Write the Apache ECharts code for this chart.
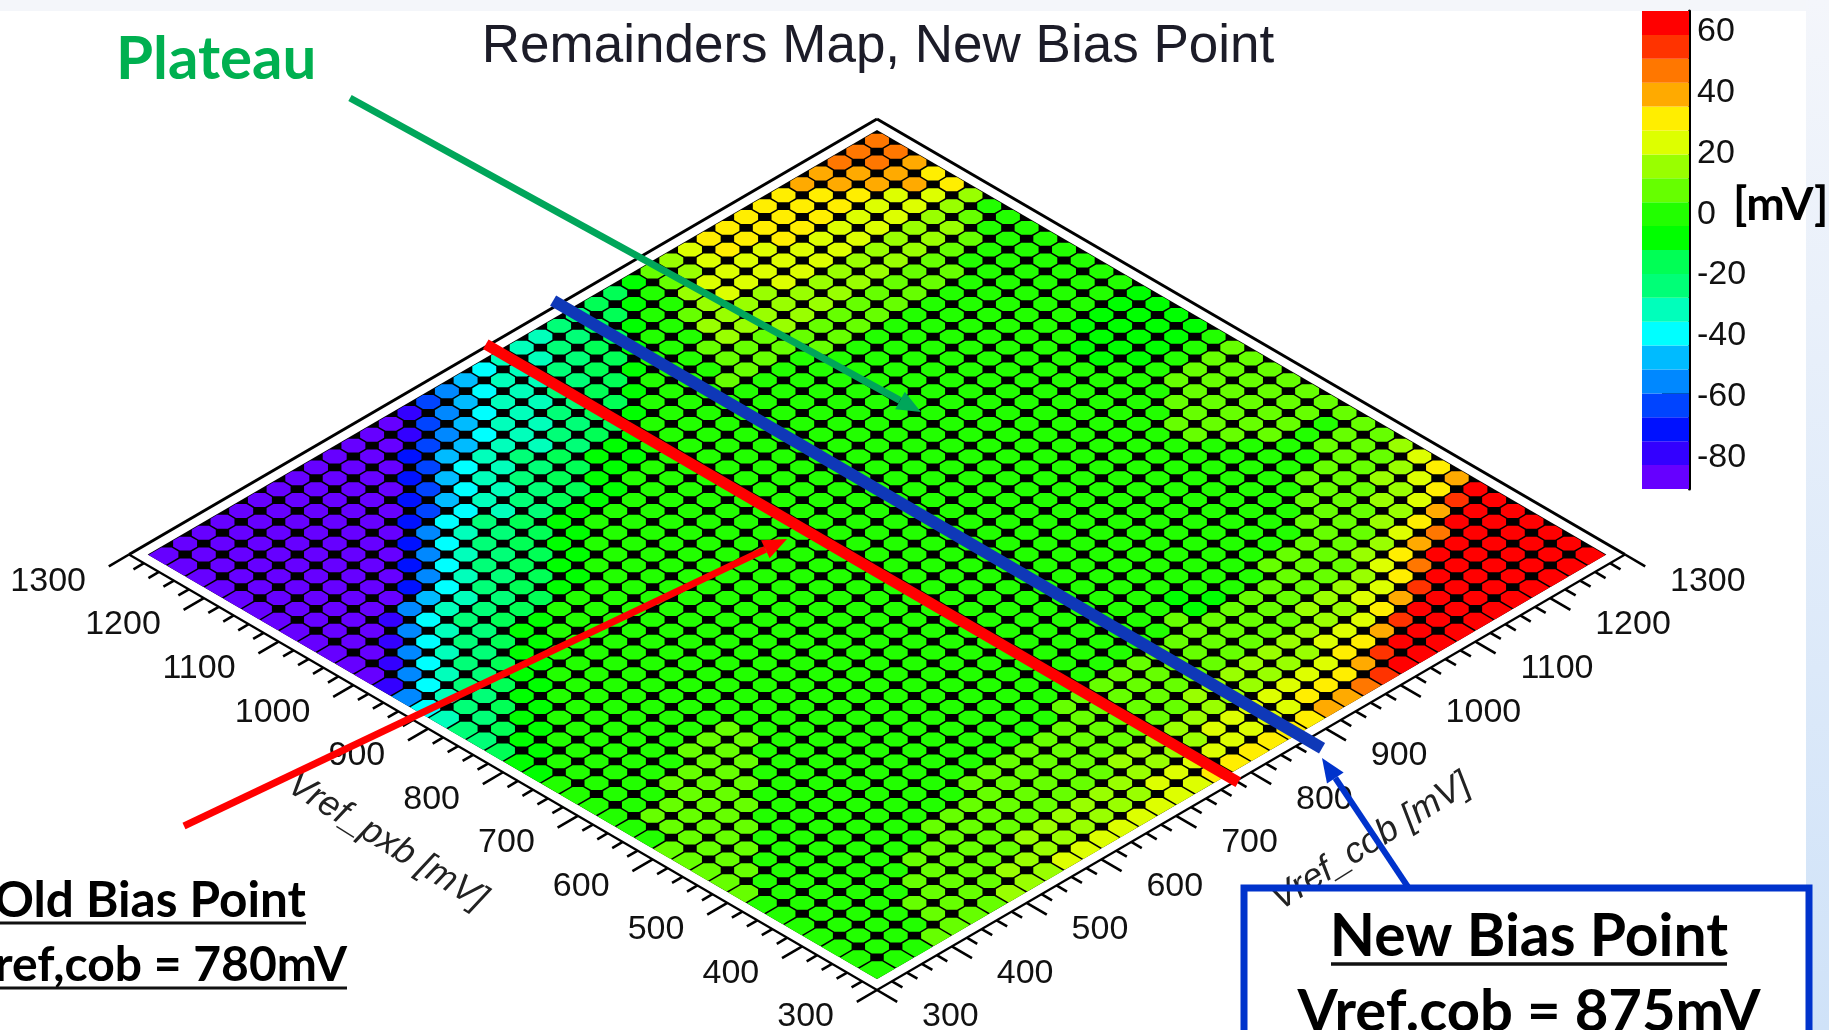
<!DOCTYPE html>
<html lang="en">
<head>
<meta charset="UTF-8">
<title>Remainders Map, New Bias Point</title>
<script src="https://cdn.jsdelivr.net/npm/echarts@6/dist/echarts.min.js"></script>
<style>
html, body { margin: 0; padding: 0; background: #fff; }
#main { width: 1829px; height: 1030px; }
</style>
<script>
// scan points, mV
var pxbBins = [325,350,375,400,425,450,475,500,525,550,575,600,625,650,675,700,725,750,775,800,825,850,875,900,925,950,975,1000,1025,1050,1075,1100,1125,1150,1175,1200,1225,1250,1275];
var cobBins = [325,350,375,400,425,450,475,500,525,550,575,600,625,650,675,700,725,750,775,800,825,850,875,900,925,950,975,1000,1025,1050,1075,1100,1125,1150,1175,1200,1225,1250,1275];

// remainder in mV, one row per pxb bin, one column per cob bin
var remainders = [
[0,0,1,3,5,7,9,11,14,17, 19,20,22,23,22,22,23,25,27,28, 29,30,31,34,38,42,46,52,58,62, 62,62,62,62,62,62,62,62,62],
[0,0,1,2,4,6,7,9,11,14, 15,16,18,18,18,18,19,20,22,23, 24,25,26,26,27,29,33,40,52,62, 62,62,62,62,62,62,62,62,62],
[0,0,0,1,3,4,5,6,8,10, 11,12,13,14,14,14,15,16,17,18, 19,20,21,21,22,23,25,27,32,40, 52,62,62,62,62,62,62,62,62],
[0,0,0,1,2,3,4,5,6,7, 8,9,10,10,10,10,11,12,13,13, 14,15,16,16,17,17,18,19,21,25, 31,42,53,62,62,62,62,62,62],
[0,0,0,0,1,2,3,3,4,5, 6,6,7,7,7,8,8,9,9,10, 10,11,11,12,12,13,13,14,15,16, 19,25,33,46,60,62,62,62,62],
[0,0,0,0,1,1,2,2,3,3, 4,4,5,5,5,5,6,6,6,7, 7,7,8,8,9,9,10,10,11,12, 13,15,20,27,37,50,62,62,62],
[0,0,0,0,0,1,1,1,2,2, 2,3,3,3,3,3,4,4,4,4, 5,5,5,6,6,7,7,7,8,9, 9,10,12,16,20,27,38,52,62],
[6,0,0,0,0,0,0,1,1,1, 1,2,2,2,2,2,2,3,3,3, 3,3,3,4,4,4,5,5,5,5, 6,7,7,9,12,16,21,29,40],
[6,6,0,0,0,0,0,0,0,1, 1,1,1,1,1,1,1,2,2,2, 2,2,2,2,3,-7,-7,2,2,3, 4,5,6,8,10,13,17,23,32],
[6,6,6,0,0,0,0,0,0,0, 0,0,0,1,1,1,1,1,1,1, 1,1,1,1,1,-7,1,1,1,1, 1,2,3,5,7,9,11,15,20],
[6,6,6,6,0,0,0,0,0,0, 0,0,0,0,0,0,0,0,0,0, 0,0,0,0,0,0,0,0,0,0, 0,1,2,3,4,6,7,9,12],
[6,6,6,6,6,0,0,0,0,0, 0,0,0,0,0,0,0,0,0,0, 0,0,0,0,0,0,0,0,0,0, 0,0,1,2,3,4,6,7,8],
[0,6,6,6,6,6,0,0,0,0, 0,0,0,0,0,0,0,0,0,0, 0,0,0,0,0,0,0,0,0,0, 0,0,0,0,1,2,5,6,6],
[0,6,6,6,6,6,6,0,0,0, 0,0,0,0,0,0,0,0,0,0, 0,0,0,0,0,0,0,0,0,0, 0,0,0,0,0,0,1,2,3],
[0,0,0,6,6,6,6,6,0,0, 0,0,0,0,0,0,0,0,0,0, 0,0,0,0,0,0,0,0,0,0, 0,0,0,0,1,4,5,6,6],
[0,0,0,0,0,6,6,6,0,0, 0,0,0,0,0,0,0,0,0,0, 0,0,0,0,0,0,0,0,0,0, 0,0,0,0,5,6,6,6,6],
[0,0,0,0,0,0,0,0,0,0, 0,0,0,0,0,0,0,0,0,0, 0,0,0,0,0,0,0,0,0,0, 0,0,0,5,6,6,6,6,5],
[-1,0,0,0,0,0,0,0,0,0, 0,0,0,0,0,0,0,0,0,0, 0,0,0,0,0,0,0,0,0,0, 0,0,0,5,6,6,6,6,6],
[-6,-1,0,0,0,0,0,0,0,0, 0,0,0,0,0,0,0,0,0,0, 0,0,0,0,0,0,0,0,0,0, 0,0,0,0,5,6,6,6,6],
[-12,-6,-1,0,0,0,0,0,0,0, 0,0,0,0,0,0,0,0,0,0, 0,0,0,0,0,0,0,0,0,0, 0,0,0,0,0,5,6,6,5],
[-18,-12,-6,-1,0,0,0,0,0,0, 0,0,0,0,0,0,0,0,0,0, 0,0,0,0,0,0,0,0,0,0, 0,0,0,0,0,0,0,0,0],
[-23,-18,-12,-6,-1,0,0,0,0,0, 0,0,0,0,0,0,0,0,0,0, 0,0,0,0,0,0,0,0,0,0, 0,0,0,0,0,-7,-7,-7,-7],
[-26,-23,-18,-12,-6,-1,0,0,0,0, 0,0,0,0,0,0,0,0,0,0, 0,0,0,0,0,0,0,0,0,0, 0,0,0,0,-7,-7,-7,-7,-7],
[-32,-26,-23,-18,-12,-6,-1,0,0,0, 0,0,0,0,0,0,0,0,0,0, 0,0,0,0,0,0,0,0,0,0, 0,0,0,0,-7,-7,-7,-7,-7],
[-42,-32,-26,-23,-18,-12,-6,-1,0,0, 0,0,0,0,0,0,0,0,0,0, 0,0,0,0,0,0,0,0,0,0, 0,0,0,0,0,-7,-7,-7,-7],
[-58,-42,-32,-26,-23,-18,-12,-6,-1,0, 0,0,0,0,0,0,0,0,0,0, 0,0,0,0,0,0,0,0,0,0, 0,0,0,0,0,0,0,0,0],
[-76,-58,-42,-32,-26,-23,-18,-16,-13,-11, -7,-4,-1,0,0,0,0,0,0,0, 0,0,0,0,0,0,0,0,0,0, 0,0,0,0,0,0,0,0,0],
[-87,-76,-58,-42,-32,-26,-25,-24,-20,-15, -11,-7,-4,-1,0,0,0,0,0,0, 0,0,0,0,0,0,0,0,0,0, 0,0,0,0,0,0,0,0,0],
[-87,-87,-76,-58,-42,-34,-31,-28,-24,-20, -15,-11,-7,-4,-4,-2,-1,0,0,0, 0,0,0,0,0,0,0,0,0,0, 0,0,0,0,0,0,0,0,0],
[-87,-87,-87,-76,-58,-52,-42,-33,-28,-24, -20,-15,-11,-10,-9,-6,-4,-1,0,0, 0,0,0,0,0,1,1,1,1,1, 1,1,1,0,0,0,0,0,0],
[-87,-87,-87,-87,-87,-70,-55,-42,-33,-28, -24,-20,-22,-18,-15,-11,-8,-5,-1,0, 0,0,0,0,1,2,2,3,3,4, 4,4,4,5,3,1,0,0,0],
[-87,-87,-87,-87,-87,-87,-70,-55,-42,-33, -28,-30,-26,-22,-18,-15,-11,-8,-5,-1, 0,0,0,6,6,6,7,7,7,7, 8,8,8,8,9,7,3,1,0],
[-87,-87,-87,-87,-87,-87,-87,-70,-55,-42, -40,-34,-30,-26,-22,-18,-23,-19,-15,-9, -2,0,0,0,10,10,10,11,11,11, 11,12,12,12,12,13,11,7,2],
[-87,-87,-87,-87,-87,-87,-87,-87,-70,-60, -48,-40,-34,-30,-26,-30,-26,-23,-19,-15, -9,-2,0,0,7,14,14,14,15,15, 15,15,16,16,16,16,16,15,11],
[-87,-87,-87,-87,-87,-87,-87,-87,-87,-74, -60,-48,-40,-34,-36,-33,-30,-26,-23,-19, -15,-9,-2,0,0,11,18,18,18,19, 19,19,19,20,20,20,20,20,31],
[-87,-87,-87,-87,-87,-87,-87,-87,-87,-87, -74,-60,-48,-47,-40,-36,-33,-30,-26,-23, -19,-15,-9,-2,0,8,15,22,22,22, 23,23,23,23,24,24,24,36,34],
[-87,-87,-87,-87,-87,-87,-87,-87,-87,-87, -87,-74,-66,-55,-47,-40,-36,-33,-30,-26, -23,-19,-15,-9,-2,0,12,19,26,26, 26,27,27,27,27,28,37,40,42],
[-87,-87,-87,-87,-87,-87,-87,-87,-87,-87, -87,-87,-78,-66,-55,-47,-40,-36,-33,-30, -26,-23,-19,-15,-9,-2,8,16,23,30, 30,30,31,31,31,37,40,43,45],
[-87,-87,-87,-87,-87,-87,-87,-87,-87,-87, -87,-87,-87,-78,-66,-55,-47,-40,-36,-33, -30,-26,-23,-19,-15,-9,5,12,20,27, 32,32,32,32,37,40,43,46,49]
];

// palette, bottom of the scale first
var paletteColors = ['#6600ff','#3300ff','#0011ff','#0044ff','#0088ff','#00bbff','#00ffff','#00ffbb','#00ff77','#00ff55','#00ff00','#22ff00','#66ff00','#99ff00','#ddff00','#ffee00','#ffaa00','#ff7700','#ff3300','#ff0000'];
var scaleMin = -91.3;
var scaleMax = 65.8;
var scaleTicks = [-80,-60,-40,-20,0,20,40,60];

var axisMajor = [300,400,500,600,700,800,900,1000,1100,1200,1300];
var axisMinor = [320,340,360,380,420,440,460,480,520,540,560,580,620,640,660,680,720,740,760,780,820,840,860,880,920,940,960,980,1020,1040,1060,1080,1120,1140,1160,1180,1220,1240,1260,1280];

var oldBiasCob = 780;
var newBiasCob = 875;

var binHalf = 12.5;

function levelColor(v) {
    var step = (scaleMax - scaleMin) / paletteColors.length;
    var k = Math.floor((v - scaleMin) / step);
    k = Math.max(0, Math.min(paletteColors.length - 1, k));
    return paletteColors[k];
}

// the lego is looked at from above, so pxb/cob become a rotated pair
function project(api, pxb, cob) {
    return api.coord([cob - pxb, cob + pxb]);
}

function renderBack(params, api) {
    var lo = pxbBins[0] - binHalf, hi = pxbBins[pxbBins.length - 1] + binHalf;
    return {
        type: 'polygon',
        shape: { points: [project(api, lo, lo), project(api, hi, lo), project(api, hi, hi), project(api, lo, hi)] },
        style: { fill: '#000' }
    };
}

function renderCell(params, api) {
    var p = api.value(0), c = api.value(1), v = api.value(2);
    var e = 1.0, ch = 7;
    var outerP = p === pxbBins[0], outerC = c === cobBins[0];
    var p0 = outerP ? p - binHalf : p - binHalf + e;
    var p1 = p + binHalf - e;
    var c0 = outerC ? c - binHalf : c - binHalf + e;
    var c1 = c + binHalf - e;
    var raw = [];
    // left corner
    if (outerC) { raw.push([p1, c0]); } else { raw.push([p1 - ch, c0], [p1, c0 + ch]); }
    // top corner
    raw.push([p1, c1 - ch], [p1 - ch, c1]);
    // right corner
    if (outerP) { raw.push([p0, c1]); } else { raw.push([p0 + ch, c1], [p0, c1 - ch]); }
    // bottom corner
    if (outerP || outerC) { raw.push([p0, c0]); } else { raw.push([p0, c0 + ch], [p0 + ch, c0]); }
    var pts = [];
    for (var n = 0; n < raw.length; n++) {
        pts.push(project(api, raw[n][0], raw[n][1]));
    }
    return { type: 'polygon', shape: { points: pts }, style: { fill: levelColor(v) } };
}

function renderFrame(params, api) {
    var lo = 300, hi = 1300;
    var children = [];
    var edges = [[hi, lo, hi, hi], [hi, hi, lo, hi], [lo, lo, hi, lo], [lo, lo, lo, hi]];
    for (var n = 0; n < edges.length; n++) {
        var a = project(api, edges[n][0], edges[n][1]);
        var b = project(api, edges[n][2], edges[n][3]);
        children.push({
            type: 'line',
            shape: { x1: a[0], y1: a[1], x2: b[0], y2: b[1] },
            style: { stroke: '#000', lineWidth: n < 2 ? 3 : 2.2 }
        });
    }
    function tick(val, len) {
        var s1 = project(api, val, lo), e1 = project(api, val, lo - len);
        var s2 = project(api, lo, val), e2 = project(api, lo - len, val);
        children.push({ type: 'line', shape: { x1: s1[0], y1: s1[1], x2: e1[0], y2: e1[1] }, style: { stroke: '#000', lineWidth: 2.6 } });
        children.push({ type: 'line', shape: { x1: s2[0], y1: s2[1], x2: e2[0], y2: e2[1] }, style: { stroke: '#000', lineWidth: 2.6 } });
    }
    axisMajor.forEach(function (t) { tick(t, 27); });
    axisMinor.forEach(function (t) { tick(t, 14); });
    return { type: 'group', children: children };
}

function renderAxisLabels(params, api) {
    var t = api.value(0);
    var l = project(api, t, 300), r = project(api, 300, t);
    var font = '34px "Liberation Sans"';
    return {
        type: 'group',
        children: [
            { type: 'text', style: { x: l[0] - 43, y: l[1] + 27, text: String(t), align: 'right', verticalAlign: 'middle', font: font, fill: '#111' } },
            { type: 'text', style: { x: r[0] + 45, y: r[1] + 27, text: String(t), align: 'left', verticalAlign: 'middle', font: font, fill: '#111' } }
        ]
    };
}

function renderBias(params, api) {
    var a = project(api, api.value(1), api.value(0));
    var b = project(api, api.value(2), api.value(0));
    return {
        type: 'line',
        shape: { x1: a[0], y1: a[1], x2: b[0], y2: b[1] },
        style: { stroke: api.value(3) === 1 ? '#0f38b8' : '#ff0000', lineWidth: api.value(3) === 1 ? 12 : 11 }
    };
}

function renderBand(params, api) {
    var k = params.dataIndex;
    var step = (scaleMax - scaleMin) / paletteColors.length;
    var lo = api.coord([0, scaleMin + k * step]);
    var hi = api.coord([1, scaleMin + (k + 1) * step]);
    return {
        type: 'rect',
        shape: { x: lo[0], y: hi[1], width: hi[0] - lo[0], height: lo[1] - hi[1] },
        style: { fill: paletteColors[k] }
    };
}

function arrow(x1, y1, x2, y2, color, width, headLen, headWid) {
    var ang = Math.atan2(y2 - y1, x2 - x1);
    var bx = x2 - headLen * Math.cos(ang), by = y2 - headLen * Math.sin(ang);
    var nx = -Math.sin(ang) * headWid / 2, ny = Math.cos(ang) * headWid / 2;
    return [
        { type: 'line', z: 60, shape: { x1: x1, y1: y1, x2: bx, y2: by }, style: { stroke: color, lineWidth: width } },
        { type: 'polygon', z: 60, shape: { points: [[x2, y2], [bx + nx, by + ny], [bx - nx, by - ny]] }, style: { fill: color } }
    ];
}

function note(text, x, y, align, size) {
    return { type: 'text', z: 70, style: { x: x, y: y, text: text, align: align, verticalAlign: 'middle', font: 'bold ' + size + 'px Lato', fill: '#000' } };
}

function rule(x1, x2, y, w) {
    return { type: 'line', z: 70, shape: { x1: x1, y1: y, x2: x2, y2: y }, style: { stroke: '#111', lineWidth: w } };
}

window.onload = function () {
    var mychart = echarts.init(document.getElementById('main'), null, { renderer: 'canvas' });

    var cellData = [];
    for (var i = 0; i < pxbBins.length; i++) {
        for (var j = 0; j < cobBins.length; j++) {
            cellData.push([pxbBins[i], cobBins[j], remainders[i][j]]);
        }
    }
    var bandData = paletteColors.map(function (c, k) { return [0, k]; });

    var overlay = [
        // slide behind the plot
        { type: 'rect', z: -1, shape: { x: 0, y: 0, width: 1829, height: 11 }, style: { fill: '#f4f6fa' } },
        { type: 'rect', z: -1, shape: { x: 1806, y: 0, width: 23, height: 1030 }, style: {
            fill: { type: 'linear', x: 0, y: 0, x2: 0, y2: 1, colorStops: [{ offset: 0, color: '#f4f6fb' }, { offset: 1, color: '#cfe2f8' }] } } },
        // axis titles
        { type: 'text', z: 10, x: 387, y: 842, rotation: -0.56, style: { text: 'Vref_pxb [mV]', align: 'center', verticalAlign: 'middle', font: 'italic 36px "Liberation Sans"', fill: '#222' } },
        { type: 'text', z: 10, x: 1371, y: 842, rotation: 0.56, style: { text: 'Vref_cob [mV]', align: 'center', verticalAlign: 'middle', font: 'italic 36px "Liberation Sans"', fill: '#222' } },
        // notes on the slide
        { type: 'text', z: 70, style: { x: 116, y: 60, text: 'Plateau', align: 'left', verticalAlign: 'middle', font: 'bold 60px Lato', fill: '#00b050' } },
        note('[mV]', 1733, 205, 'left', 46),
        note('Old Bias Point', 306, 901, 'right', 49.5),
        rule(0, 306, 923, 3),
        note('Vref,cob = 780mV', 347, 966, 'right', 48),
        rule(0, 347, 988, 3),
        { type: 'rect', z: 65, shape: { x: 1244, y: 888, width: 565, height: 170 }, style: { fill: 'none', stroke: '#0033cc', lineWidth: 7 } },
        note('New Bias Point', 1529, 937, 'center', 58.8),
        rule(1331, 1727, 964, 3.5),
        note('Vref.cob = 875mV', 1529, 1012, 'center', 58)
    ];
    overlay = overlay.concat(arrow(350, 98, 921, 412, '#00a65a', 7, 24, 20));
    overlay = overlay.concat(arrow(184, 826, 787, 539, '#ff0000', 7, 24, 20));
    overlay = overlay.concat(arrow(1408, 887, 1322, 758, '#0033cc', 6, 24, 20));

    var option = {
        animation: false,
        backgroundColor: '#fff',
        title: {
            text: 'Remainders Map, New Bias Point',
            left: 873,
            top: 42,
            textAlign: 'center',
            textVerticalAlign: 'middle',
            textStyle: { fontFamily: 'Liberation Sans', fontWeight: 'normal', fontSize: 53, color: '#1c1c28' }
        },
        grid: [
            { left: 129, top: 119, width: 1496, height: 871 },
            { left: 1642, top: 11, width: 47, height: 478 }
        ],
        xAxis: [
            { type: 'value', gridIndex: 0, min: -1000, max: 1000, show: false },
            { type: 'value', gridIndex: 1, min: 0, max: 1, show: false }
        ],
        yAxis: [
            { type: 'value', gridIndex: 0, min: 600, max: 2600, show: false },
            {
                type: 'value', gridIndex: 1, min: scaleMin, max: scaleMax, position: 'right',
                splitLine: { show: false },
                axisLine: { show: true, onZero: false, lineStyle: { color: '#000', width: 3 } },
                axisTick: { show: true, inside: true, length: 27, lineStyle: { color: '#000', width: 3 }, customValues: scaleTicks },
                axisLabel: {
                    show: true, margin: 8, customValues: scaleTicks,
                    formatter: '{v|{value}}',
                    rich: { v: { fontFamily: 'Liberation Sans', fontSize: 34, color: '#111', padding: [6, 0, 0, 0] } }
                }
            }
        ],
        series: [
            { type: 'custom', name: 'back', xAxisIndex: 0, yAxisIndex: 0, clip: false, z: 2, data: [[0, 0]], renderItem: renderBack, silent: true },
            { type: 'custom', name: 'remainders', xAxisIndex: 0, yAxisIndex: 0, clip: false, z: 3, data: cellData, renderItem: renderCell, silent: true, progressive: 0, encode: { x: 0, y: 1 } },
            { type: 'custom', name: 'frame', xAxisIndex: 0, yAxisIndex: 0, clip: false, z: 4, data: [[0, 0]], renderItem: renderFrame, silent: true },
            { type: 'custom', name: 'axis labels', xAxisIndex: 0, yAxisIndex: 0, clip: false, z: 5, data: axisMajor.map(function (t) { return [t]; }), renderItem: renderAxisLabels, silent: true, encode: { x: 0 } },
            { type: 'custom', name: 'bias', xAxisIndex: 0, yAxisIndex: 0, clip: false, z: 6, renderItem: renderBias, silent: true, encode: { x: 1, y: 0 },
              data: [[newBiasCob, 1308, 280, 1], [oldBiasCob, 1303, 297, 0]] },
            { type: 'custom', name: 'palette', xAxisIndex: 1, yAxisIndex: 1, clip: false, z: 2, data: bandData, renderItem: renderBand, silent: true, encode: { x: 0, y: 1 } }
        ],
        graphic: { elements: overlay }
    };
    mychart.setOption(option);
};
</script>
</head>
<body>
<div id="main"></div>
</body>
</html>
